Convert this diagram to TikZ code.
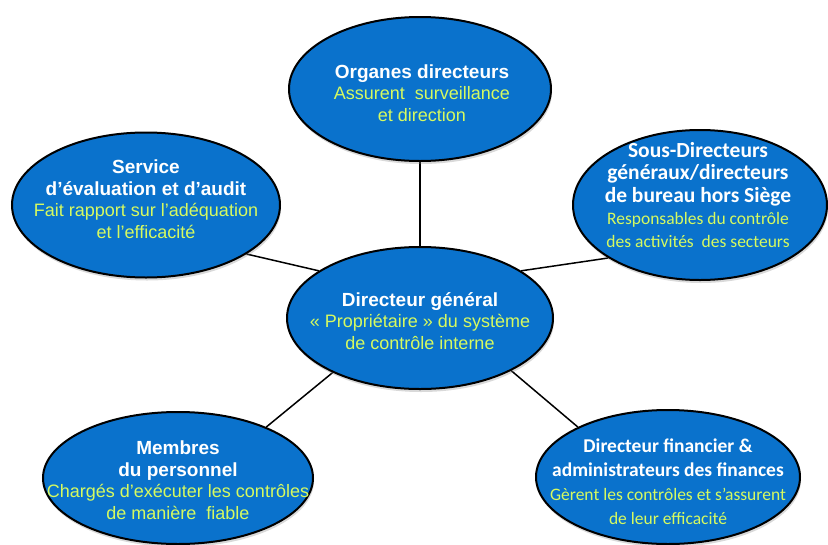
\documentclass[tikz,border=0pt]{standalone}
\usepackage{fontspec}
\setmainfont{Liberation Sans}
\newfontfamily\calibri{Carlito}
\usetikzlibrary{shapes.geometric,shadows,backgrounds}
\definecolor{bubbleblue}{RGB}{10,114,204}
\definecolor{notegreen}{RGB}{214,250,96}
\tikzstyle{bubble}=[ellipse,draw=black,line width=2pt,fill=bubbleblue,inner sep=0pt,drop shadow={opacity=0.3,shadow xshift=1pt,shadow yshift=-3pt}]
\tikzstyle{bubbletext}=[align=center,text=white,inner sep=0pt,font=\fontsize{19}{21.5}\selectfont\bfseries]
\tikzstyle{calibritext}=[bubbletext,font=\fontsize{21.5}{22.5}\selectfont\calibri\bfseries]
\tikzstyle{link}=[draw,line width=1.5pt,black]
\newcommand{\note}[1]{\textcolor{notegreen}{\fontsize{18}{20.5}\selectfont\mdseries #1}}
\newcommand{\cnote}[1]{\textcolor{notegreen}{\fontsize{17.5}{20}\selectfont\mdseries #1}}

\begin{document}
\begin{tikzpicture}[x=1pt,y=-1pt]
    \useasboundingbox (0,0) rectangle (828,544);

    % the six bubbles
    \node[bubble,minimum width=262pt,minimum height=144pt] (og)  at (420,89)  {};
    \node[bubble,minimum width=268pt,minimum height=145pt] (svc) at (146,205) {};
    \node[bubble,minimum width=254pt,minimum height=150pt] (sd)  at (700,205) {};
    \node[bubble,minimum width=266pt,minimum height=142pt] (dg)  at (420,318) {};
    \node[bubble,minimum width=270pt,minimum height=132pt] (mb)  at (178,478) {};
    \node[bubble,minimum width=264pt,minimum height=134pt] (df)  at (668,477) {};

    % texts
    \node[bubbletext] (og-t)  at (422,93)  {Organes directeurs\\\note{Assurent~ surveillance}\\\note{et direction}};
    \node[bubbletext] (svc-t) at (146,199) {Service\\d’évaluation et d’audit\\\note{Fait rapport sur l’adéquation}\\\note{et l’efficacité}};
    \node[calibritext] (sd-t) at (698,195) {Sous-Directeurs\\généraux/directeurs\\de bureau hors Siège\\\cnote{Responsables du contrôle}\\\cnote{des activités~ des secteurs}};
    \node[bubbletext] (dg-t)  at (420,321) {Directeur général\\\note{« Propriétaire » du système}\\\note{de contrôle interne}};
    \node[bubbletext] (mb-t)  at (178,480) {Membres\\du personnel\\\note{Chargés d’exécuter les contrôles}\\\note{de manière~ fiable}};
    \node[calibritext,font=\fontsize{19.5}{24}\selectfont\calibri\bfseries] (df-t) at (668,482) {Directeur financier \&\\administrateurs des finances\\\cnote{Gèrent les contrôles et s’assurent}\\\cnote{de leur efficacité}};

    % connectors
    \begin{scope}[on background layer]
    \path[link] (og.south) -- (dg.north);
    \path[link] (svc.-26) -- (dg.155);
    \path[link] (sd.210) -- (dg.25);
    \path[link] (mb.30) -- (dg.212);
    \path[link] (df.151) -- (dg.-30);
    \end{scope}
\end{tikzpicture}
\end{document}
